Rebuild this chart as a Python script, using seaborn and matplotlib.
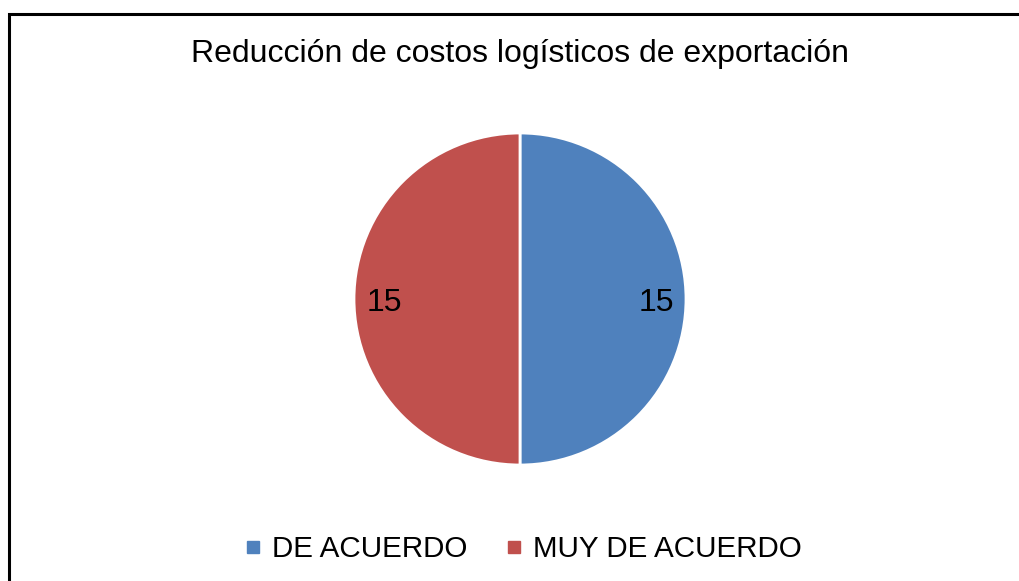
import matplotlib
matplotlib.use("Agg")
import matplotlib.pyplot as plt
from matplotlib.patches import Rectangle
from matplotlib.lines import Line2D
import seaborn as sns

# Chart data
categories = ["DE ACUERDO", "MUY DE ACUERDO"]
counts = [15, 15]
colors = ["#4F81BD", "#C0504D"]
title = "Reducción de costos logísticos de exportación"

sns.set_theme(style="white")
plt.rcParams['font.family'] = ['Liberation Sans', 'DejaVu Sans']
plt.rcParams['text.color'] = 'black'

fig = plt.figure(figsize=(10.19, 5.81), dpi=100)
ax = fig.add_axes([0, 0, 1, 1])
ax.set_xlim(0, 1019)
ax.set_ylim(581, 0)
ax.axis('off')

# Outer border of the chart area
fig.patches.append(Rectangle((9 / 1019, -0.05), 1.1, (581 - 14) / 581 + 0.05,
                             transform=fig.transFigure, fill=False,
                             edgecolor='black', linewidth=2.2))

fig.text(520 / 1019, 1 - 54 / 581, title, ha='center', va='center', fontsize=23)

# Pie
r = 166
pie_ax = fig.add_axes([(520 - r) / 1019, 1 - (299 + r) / 581, 2 * r / 1019, 2 * r / 581])
wedges, texts = pie_ax.pie(counts, colors=colors, startangle=90, counterclock=False,
                           labels=[str(c) for c in counts], labeldistance=0.82,
                           wedgeprops=dict(edgecolor='white', linewidth=2))
for t in texts:
    t.set_fontsize(23)
    t.set_ha('center')
    t.set_va('center')
    x, y = t.get_position()
    t.set_position((x, y - 0.025))
pie_ax.set_xlim(-1, 1)
pie_ax.set_ylim(-1, 1)
pie_ax.set_aspect('equal')

handles = [Line2D([0], [0], marker='s', linestyle='none', markersize=8,
                  markerfacecolor=c, markeredgecolor=c) for c in colors]
fig.legend(handles, categories, loc='center', bbox_to_anchor=(522 / 1019, 1 - 549 / 581),
           ncol=2, frameon=False, fontsize=21.3, handletextpad=0.3, columnspacing=1.23,
           handlelength=0.7)

fig.savefig("out.png", dpi=100)
